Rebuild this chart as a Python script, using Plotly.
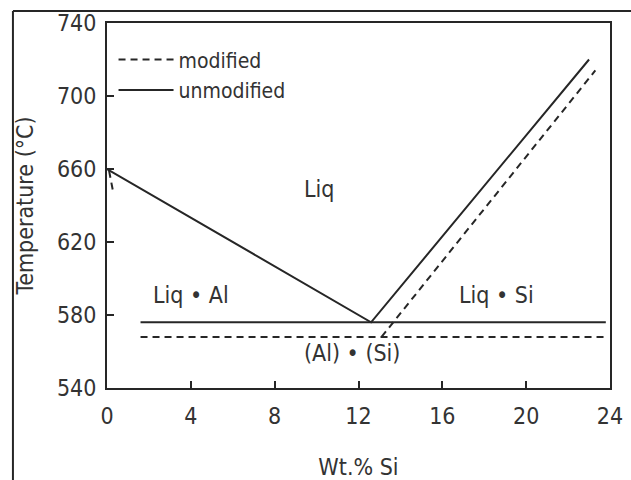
import plotly.graph_objects as go

# Al-Si phase diagram near the eutectic, modified vs unmodified alloys
# Unmodified: Al-side liquidus -> eutectic point -> Si-side liquidus, plus eutectic isotherm
unmod_liq_x = [0.0, 12.6, 23.0]
unmod_liq_t = [660, 576, 720]
unmod_eut_x = [1.6, 23.8]
unmod_eut_t = [576, 576]

# Modified: short Al-side liquidus start, depressed eutectic, shifted Si-side liquidus
mod_al_x = [0.1, 0.3]
mod_al_t = [659, 647]
mod_liq_x = [13.1, 23.3]
mod_liq_t = [568, 714]
mod_eut_x = [1.6, 23.8]
mod_eut_t = [568, 568]

x_ticks = [0, 4, 8, 12, 16, 20, 24]
y_ticks = [540, 580, 620, 660, 700, 740]

region_labels = ["Liq", "Liq • Al", "Liq • Si", "(Al) • (Si)"]
region_x = [10.1, 4.0, 18.6, 11.7]
region_t = [649, 591, 591, 559]

FONT = "DejaVu Sans Condensed, Liberation Sans Narrow, DejaVu Sans, sans-serif"
INK = "#262626"
TXT = "#333333"
FS = 23

fig = go.Figure()

# modified series (dashed), segments separated by gaps
fig.add_trace(go.Scatter(
    x=mod_al_x + [None] + mod_liq_x + [None] + mod_eut_x,
    y=mod_al_t + [None] + mod_liq_t + [None] + mod_eut_t,
    mode="lines", name="modified",
    line=dict(color=INK, width=2, dash="7px,5px"),
    connectgaps=False,
))
# unmodified series (solid)
fig.add_trace(go.Scatter(
    x=unmod_liq_x + [None] + unmod_eut_x,
    y=unmod_liq_t + [None] + unmod_eut_t,
    mode="lines", name="unmodified",
    line=dict(color=INK, width=2),
    connectgaps=False,
))

for txt, xv, tv in zip(region_labels, region_x, region_t):
    fig.add_annotation(x=xv, y=tv, text=txt, showarrow=False,
                       font=dict(family=FONT, size=FS, color=TXT))

# scanned page frame lines (top and left)
frame = dict(color=INK, width=2)
fig.add_shape(type="line", xref="paper", yref="paper",
              x0=-0.187, x1=1.05, y0=1.033, y1=1.033, line=frame)
fig.add_shape(type="line", xref="paper", yref="paper",
              x0=-0.187, x1=-0.187, y0=1.033, y1=-0.26, line=frame)

fig.update_layout(
    width=631, height=480,
    margin=dict(l=107, r=21, t=23, b=92),
    paper_bgcolor="white", plot_bgcolor="white",
    font=dict(family=FONT, size=FS, color=TXT),
    showlegend=True,
    legend=dict(x=0.013, y=0.955, xanchor="left", yanchor="top",
                bgcolor="rgba(0,0,0,0)", itemwidth=55,
                tracegroupgap=0, font=dict(family=FONT, size=21, color=TXT)),
    xaxis=dict(range=[0, 24], tickvals=x_ticks, ticks="inside", ticklen=7,
               tickwidth=2, tickcolor=INK, showgrid=False, zeroline=False,
               showline=True, linecolor=INK, linewidth=2, mirror=True,
               ticklabelstandoff=6, automargin=False,
               title=dict(text="Wt.% Si", standoff=36,
                          font=dict(family=FONT, size=FS, color=TXT))),
    yaxis=dict(range=[540, 740], tickvals=y_ticks, ticks="inside", ticklen=7,
               tickwidth=2, tickcolor=INK, showgrid=False, zeroline=False,
               showline=True, linecolor=INK, linewidth=2, mirror=True,
               ticklabelstandoff=4, automargin=False,
               title=dict(text="Temperature (°C)", standoff=17,
                          font=dict(family=FONT, size=FS, color=TXT))),
)

fig.write_html("out.html")
